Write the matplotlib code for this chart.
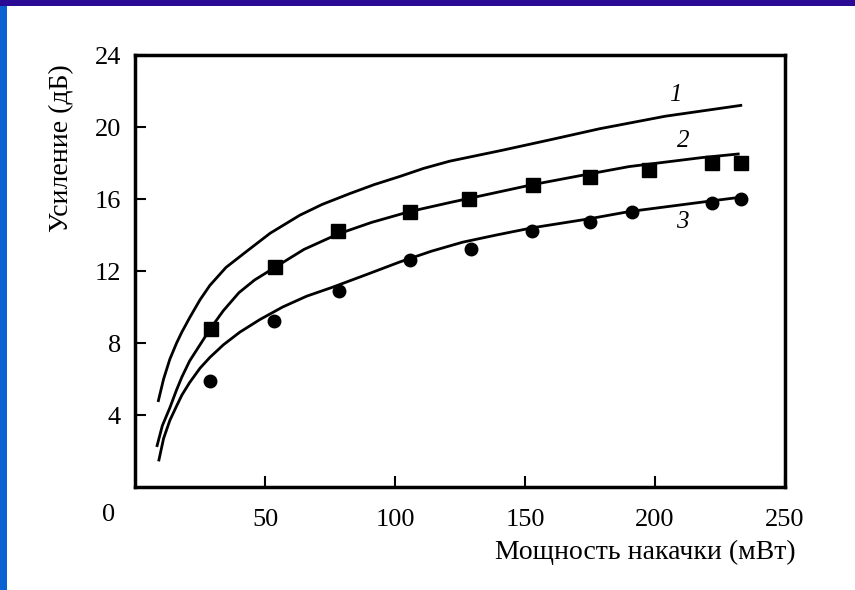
import matplotlib
matplotlib.use('Agg')
import matplotlib.pyplot as plt
from matplotlib.patches import Rectangle

# Fitted gain curves (pump power mW -> gain dB)
curve1_x = [9, 11, 13.4, 16, 18, 21, 25, 28.8, 35, 43, 52, 63.4, 72, 82.6, 92,
            101.8, 111, 121, 141, 160, 178.6, 204, 233]
curve1_y = [4.8, 6.0, 7.1, 8.0, 8.6, 9.4, 10.4, 11.2, 12.2, 13.1, 14.1, 15.1, 15.7,
            16.3, 16.8, 17.25, 17.7, 18.1, 18.7, 19.3, 19.9, 20.6, 21.2]

curve2_x = [8.5, 10.5, 13.4, 16, 18, 21, 25, 29, 34, 40, 46, 53.8, 65, 78, 91,
            105.6, 121, 137, 153, 175, 190, 204, 218, 232]
curve2_y = [2.3, 3.4, 4.4, 5.4, 6.1, 7.0, 7.9, 8.8, 9.8, 10.8, 11.5, 12.2, 13.2,
            14.05, 14.7, 15.3, 15.8, 16.3, 16.8, 17.4, 17.8, 18.05, 18.3, 18.5]

curve3_x = [9.2, 11, 13.4, 16, 18, 21, 25, 28.8, 34, 40.3, 48, 56.8, 66, 76, 89,
            101.8, 114, 126, 139, 152.8, 174.7, 190, 206, 222, 233]
curve3_y = [1.5, 2.7, 3.7, 4.5, 5.1, 5.8, 6.6, 7.2, 7.9, 8.6, 9.3, 10.0, 10.6, 11.1,
            11.8, 12.5, 13.1, 13.6, 14.0, 14.4, 14.9, 15.3, 15.6, 15.9, 16.1]

# Measured points
squares_x = [29.2, 53.8, 78, 105.6, 128.6, 153.2, 175.1, 197.8, 222, 233]
squares_y = [8.8, 12.2, 14.2, 15.3, 16.0, 16.8, 17.2, 17.6, 18.0, 18.0]

circles_x = [28.8, 53.4, 78.3, 105.6, 129.4, 152.8, 175.1, 191, 222, 233]
circles_y = [5.9, 9.2, 10.9, 12.6, 13.2, 14.2, 14.7, 15.3, 15.8, 16.0]

curve_labels = ['1', '2', '3']
label_x = [208, 211, 210.5]
label_y = [21.8, 19.2, 14.7]

x_ticks = [50, 100, 150, 200, 250]
y_ticks = [4, 8, 12, 16, 20, 24]

plt.rcParams['font.family'] = ['Liberation Serif', 'DejaVu Serif']

fig = plt.figure(figsize=(8.55, 5.9), dpi=100)
fig.patch.set_facecolor('white')

# slide decoration: bands along the top and the left edge
fig.add_artist(Rectangle((0, 1 - 6 / 590), 1, 6 / 590, transform=fig.transFigure,
                         facecolor='#2b0a96', edgecolor='none'))
fig.add_artist(Rectangle((0, 0), 7 / 855, 1 - 6 / 590, transform=fig.transFigure,
                         facecolor='#0a62d2', edgecolor='none'))

ax = fig.add_axes([135 / 855, 1 - 487 / 590, 650 / 855, 432 / 590])

for xs, ys in [(curve1_x, curve1_y), (curve2_x, curve2_y), (curve3_x, curve3_y)]:
    ax.plot(xs, ys, color='black', linewidth=2.0, solid_joinstyle='round')

ax.plot(squares_x, squares_y, 's', color='black', markersize=10, linestyle='none')
ax.plot(circles_x, circles_y, 'o', color='black', markersize=9, linestyle='none')

for t, lx, ly in zip(curve_labels, label_x, label_y):
    ax.text(lx, ly, t, fontsize=18, style='italic', ha='center', va='center')

ax.set_xlim(0, 250)
ax.set_ylim(0, 24)
ax.set_xticks(x_ticks)
ax.set_yticks(y_ticks)
ax.tick_params(direction='in', length=8, width=1.5, labelsize=19)
ax.tick_params(axis='x', pad=16)
ax.tick_params(axis='y', pad=10)
for s in ax.spines.values():
    s.set_linewidth(2.5)

# origin label sits below the corner
ax.text(-10, -1.55, '0', fontsize=19, ha='center', va='center', clip_on=False)

fig.text(62 / 855, 1 - 148 / 590, 'Усиление (дБ)', rotation=90, fontsize=20,
         ha='center', va='center')
fig.text(796 / 855, 1 - 552 / 590, 'Мощность накачки (мВт)', fontsize=20,
         ha='right', va='center')

plt.savefig('out.png', dpi=100, facecolor='white')
